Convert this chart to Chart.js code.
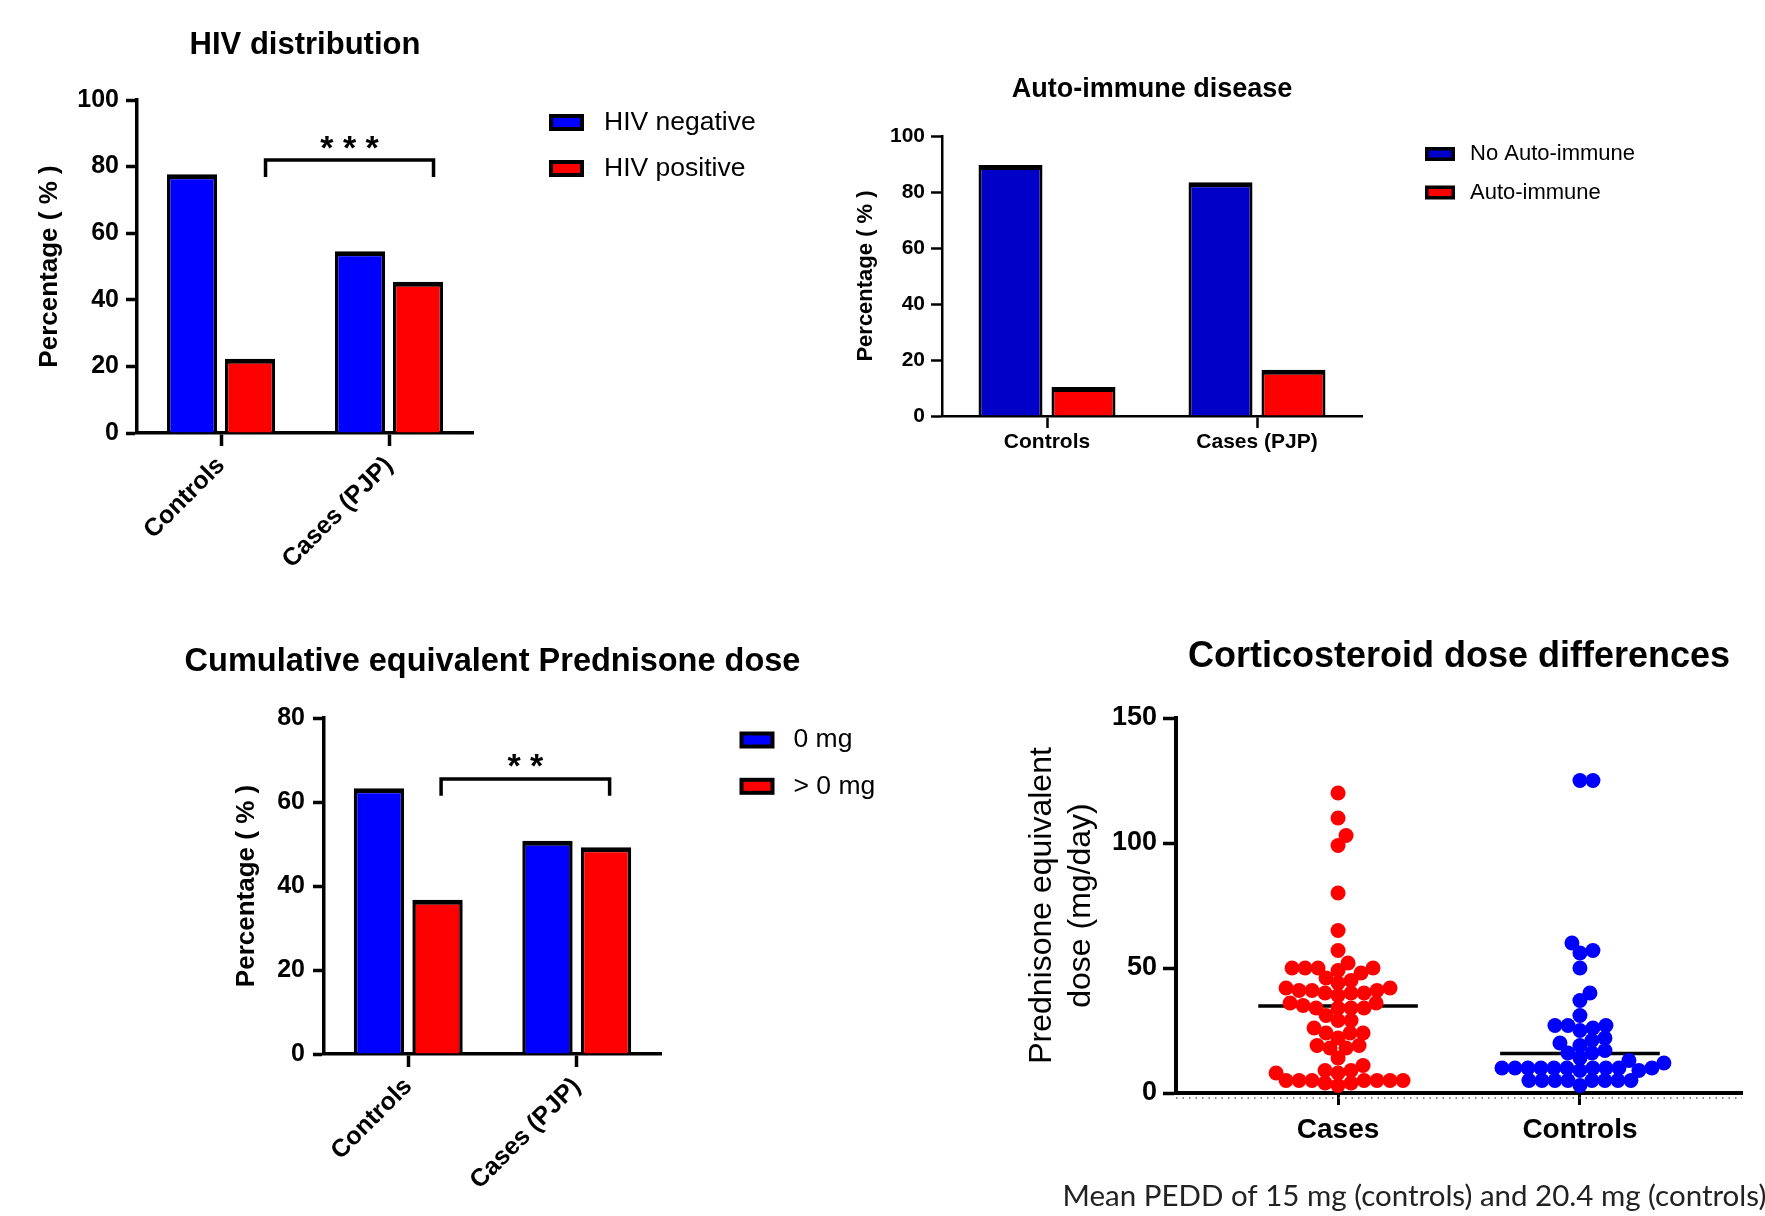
<!DOCTYPE html>
<html lang="en">
<head>
  <meta charset="UTF-8">
  <title>PJP risk factor panels</title>
  <script src="https://cdn.jsdelivr.net/npm/chart.js"></script>
  <style>
    body {
      margin: 0;
      background: #fff;
      width: 1765px;
      height: 1216px;
      position: relative;
      overflow: hidden;
    }
    canvas {
      position: absolute;
      display: block;
    }
  </style>
</head>
<body>
  <canvas id="hivChart" width="820" height="600" style="left:0;top:0"></canvas>
  <canvas id="autoChart" width="945" height="520" style="left:820px;top:0"></canvas>
  <canvas id="doseChart" width="960" height="616" style="left:0;top:600px"></canvas>
  <canvas id="steroidChart" width="805" height="616" style="left:960px;top:600px"></canvas>

  <script>
    // values
    const groups = ['Controls', 'Cases (PJP)'];
    const hivNegative = [77.7, 54.6];
    const hivPositive = [22.3, 45.4];
    const noAutoImmune = [89.6, 83.5];
    const autoImmune = [10.4, 16.5];
    const doseZero = [63.3, 50.8];
    const doseAboveZero = [36.7, 49.2];

    const doseGroups = ['Cases', 'Controls'];
    const casesDose = [120, 110, 103, 99, 80, 65, 57, 52, 50, 50, 50, 50, 49, 48, 46, 45, 44,
      42, 42, 41, 41, 41, 40, 40, 40, 39, 36, 36, 35, 34, 34, 34, 34, 31, 29, 29, 26, 24, 24, 24,
      22, 19, 19, 18, 18, 14, 11, 9, 9, 8, 8, 5, 5, 5, 5, 5, 5, 5, 4, 4, 3];
    const controlsDose = [125, 125, 60, 57, 56, 50, 40, 37, 31, 27, 27, 27, 26, 25, 22, 21, 20,
      19, 17, 16, 16, 14, 13, 12, 10, 10, 10, 10, 10, 10, 10, 10, 10, 10, 9, 9,
      5, 5, 5, 5, 5, 5, 5, 5, 3];
    const casesCentre = 34.8;
    const controlsCentre = 15.8;

    Chart.defaults.font.family = "'Liberation Sans', Arial, sans-serif";
    Chart.defaults.color = '#000';
    Chart.defaults.animation = false;

    const fixWidth = w => scale => { scale.width = w; };
    const fixHeight = h => scale => { scale.height = h; };

    // titles, legend keys, significance brackets, footnote
    const decor = {
      id: 'decor',
      afterDraw(chart, args, opts) {
        const ctx = chart.ctx;
        const area = chart.chartArea;
        ctx.save();
        ctx.fillStyle = '#000';

        if (opts.heading) {
          ctx.font = opts.heading.font;
          ctx.textAlign = 'center';
          ctx.textBaseline = 'middle';
          ctx.fillText(opts.heading.text, (area.left + area.right) / 2, opts.heading.y);
        }

        if (opts.keys) {
          const k = opts.keys;
          chart.data.datasets.forEach((ds, i) => {
            const top = k.y[i] - k.h / 2;
            ctx.fillStyle = '#000';
            ctx.fillRect(k.x, top, k.w, k.h);
            ctx.fillStyle = ds.backgroundColor;
            ctx.fillRect(k.x + k.line, top + k.line, k.w - 2 * k.line, k.h - 2 * k.line);
            ctx.fillStyle = '#000';
            ctx.font = k.font;
            ctx.textAlign = 'left';
            ctx.textBaseline = 'middle';
            ctx.fillText(ds.label, k.textX, k.y[i]);
          });
        }

        if (opts.bracket) {
          const b = opts.bracket;
          const xs = chart.scales.x, ys = chart.scales.y;
          const x1 = xs.getPixelForValue(b.from), x2 = xs.getPixelForValue(b.to);
          const yTop = ys.getPixelForValue(b.at), yEnd = ys.getPixelForValue(b.drop);
          ctx.strokeStyle = '#000';
          ctx.lineWidth = b.width;
          ctx.beginPath();
          ctx.moveTo(x1, yEnd);
          ctx.lineTo(x1, yTop);
          ctx.lineTo(x2, yTop);
          ctx.lineTo(x2, yEnd);
          ctx.stroke();
          ctx.font = 'bold ' + b.size + 'px ' + Chart.defaults.font.family;
          ctx.textAlign = 'center';
          ctx.textBaseline = 'alphabetic';
          ctx.fillText(b.label, (x1 + x2) / 2, ys.getPixelForValue(b.labelAt) + 0.57 * b.size);
        }

        if (opts.rule) {
          ctx.strokeStyle = '#666';
          ctx.lineWidth = 1.5;
          ctx.setLineDash([1.5, 5]);
          ctx.beginPath();
          ctx.moveTo(area.left, area.bottom + opts.rule);
          ctx.lineTo(area.right, area.bottom + opts.rule);
          ctx.stroke();
          ctx.setLineDash([]);
        }

        if (opts.note) {
          ctx.fillStyle = '#222';
          ctx.font = opts.note.font;
          ctx.textAlign = 'left';
          ctx.textBaseline = 'middle';
          ctx.fillText(opts.note.text, opts.note.x, opts.note.y);
        }
        ctx.restore();
      }
    };

    function barPanel(id, cfg) {
      return new Chart(document.getElementById(id), {
        type: 'bar',
        data: {
          labels: groups,
          datasets: cfg.series.map(s => ({
            label: s.label,
            data: s.data,
            backgroundColor: s.color,
            borderColor: '#000',
            borderWidth: cfg.barBorder,
            borderSkipped: 'start',
            categoryPercentage: cfg.catPct,
            barPercentage: cfg.barPct
          }))
        },
        options: {
          responsive: false,
          layout: { padding: cfg.padding },
          plugins: {
            legend: { display: false },
            tooltip: { enabled: false },
            decor: cfg.decor
          },
          scales: {
            x: {
              afterFit: fixHeight(cfg.xHeight),
              grid: { offset: false, drawOnChartArea: false, color: '#000', tickLength: cfg.xTick, tickWidth: cfg.axisWidth },
              border: { color: '#000', width: cfg.axisWidth },
              ticks: {
                font: { size: cfg.xFont, weight: 'bold' },
                minRotation: cfg.rotation,
                maxRotation: cfg.rotation,
                autoSkip: false,
                padding: cfg.xPad
              }
            },
            y: {
              min: 0,
              max: cfg.yMax,
              afterFit: fixWidth(cfg.yWidth),
              grid: { drawOnChartArea: false, color: '#000', tickLength: 11, tickWidth: cfg.axisWidth },
              border: { color: '#000', width: cfg.axisWidth },
              ticks: { stepSize: 20, font: { size: cfg.yFont, weight: 'bold' }, padding: cfg.yPad },
              title: {
                display: true,
                text: 'Percentage ( % )',
                font: { size: cfg.yTitleFont, weight: 'bold' },
                padding: { top: cfg.yTitlePad, bottom: 0 }
              }
            }
          }
        },
        plugins: [decor]
      });
    }

    barPanel('hivChart', {
      series: [
        { label: 'HIV negative', data: hivNegative, color: '#0000FF' },
        { label: 'HIV positive', data: hivPositive, color: '#FF0000' }
      ],
      barBorder: { top: 5, left: 3.5, right: 3.5, bottom: 0 },
      catPct: 0.69, barPct: 0.865,
      padding: { left: 0, top: 100, right: 347, bottom: 0 },
      xHeight: 167, xTick: 13, xFont: 25, xPad: 5, rotation: 45,
      yMax: 100, yWidth: 137, yFont: 25, yPad: 7, yTitleFont: 26, yTitlePad: 34,
      axisWidth: 3.5,
      decor: {
        heading: { text: 'HIV distribution', y: 45, font: "bold 31px 'Liberation Sans', Arial, sans-serif" },
        keys: { x: 549, w: 35, h: 17, line: 4, y: [122.5, 168.5], textX: 604, font: "26.5px 'Liberation Sans', Arial, sans-serif" },
        bracket: { from: 0.265, to: 1.265, at: 82, drop: 76.9, width: 3.5, label: '* * *', labelAt: 88.1, size: 34 }
      }
    });

    barPanel('autoChart', {
      series: [
        { label: 'No Auto-immune', data: noAutoImmune, color: '#0000C8' },
        { label: 'Auto-immune', data: autoImmune, color: '#FF0000' }
      ],
      barBorder: { top: 5, left: 3, right: 3, bottom: 0 },
      catPct: 0.695, barPct: 0.877,
      padding: { left: 0, top: 136, right: 403, bottom: 0 },
      xHeight: 104, xTick: 12, xFont: 21, xPad: 2, rotation: 0,
      yMax: 100, yWidth: 122, yFont: 21, yPad: 6, yTitleFont: 22, yTitlePad: 33,
      axisWidth: 2.5,
      decor: {
        heading: { text: 'Auto-immune disease', y: 90, font: "bold 27px 'Liberation Sans', Arial, sans-serif" },
        keys: { x: 605, w: 30, h: 14, line: 3.5, y: [154, 192.5], textX: 650, font: "22px 'Liberation Sans', Arial, sans-serif" }
      }
    });

    barPanel('doseChart', {
      series: [
        { label: '0 mg', data: doseZero, color: '#0000FF' },
        { label: '> 0 mg', data: doseAboveZero, color: '#FF0000' }
      ],
      barBorder: { top: 5, left: 3.5, right: 3.5, bottom: 0 },
      catPct: 0.695, barPct: 0.86,
      padding: { left: 0, top: 118, right: 299, bottom: 0 },
      xHeight: 162, xTick: 13, xFont: 25, xPad: 5, rotation: 45,
      yMax: 80, yWidth: 324, yFont: 25, yPad: 8, yTitleFont: 26, yTitlePad: 231,
      axisWidth: 3.5,
      decor: {
        heading: { text: 'Cumulative equivalent Prednisone dose', y: 62, font: "bold 32.5px 'Liberation Sans', Arial, sans-serif" },
        keys: { x: 739.5, w: 35, h: 17, line: 4, y: [140, 186.3], textX: 793.5, font: "26.5px 'Liberation Sans', Arial, sans-serif" },
        bracket: { from: 0.195, to: 1.195, at: 65.5, drop: 61.5, width: 3.5, label: '* *', labelAt: 70.6, size: 34 }
      }
    });

    // beeswarm layout: each dot goes to the nearest free spot beside the column centre
    // (gap and the px-per-unit factors only decide the horizontal spread)
    function swarm(values, centre, gap, xPx, yPx) {
      const placed = [];
      values.slice().sort((a, b) => a - b).forEach(v => {
        for (let k = 0; ; k++) {
          const tries = k === 0 ? [0] : [k, -k];
          const spot = tries.find(o => placed.every(p => Math.hypot(p.o - o, (p.v - v) * yPx) >= gap));
          if (spot !== undefined) {
            placed.push({ o: spot, v });
            break;
          }
        }
      });
      return placed.map(p => ({ x: centre + p.o / xPx, y: p.v }));
    }

    const halfLine = 0.33;
    new Chart(document.getElementById('steroidChart'), {
      type: 'scatter',
      data: {
        datasets: [
          {
            label: doseGroups[0],
            data: swarm(casesDose, 1, 12.5, 242, 2.5),
            backgroundColor: '#FF0000',
            borderWidth: 0,
            pointRadius: 7.5
          },
          {
            label: doseGroups[1],
            data: swarm(controlsDose, 2, 12.5, 242, 2.5),
            backgroundColor: '#0000FF',
            borderWidth: 0,
            pointRadius: 7.5
          },
          {
            type: 'line',
            data: [{ x: 1 - halfLine, y: casesCentre }, { x: 1 + halfLine, y: casesCentre }],
            borderColor: '#000',
            borderWidth: 3.5,
            pointRadius: 0
          },
          {
            type: 'line',
            data: [{ x: 2 - halfLine, y: controlsCentre }, { x: 2 + halfLine, y: controlsCentre }],
            borderColor: '#000',
            borderWidth: 3.5,
            pointRadius: 0
          }
        ]
      },
      options: {
        responsive: false,
        layout: { padding: { left: 0, top: 118, right: 23, bottom: 0 } },
        plugins: {
          legend: { display: false },
          tooltip: { enabled: false },
          decor: {
            heading: { text: 'Corticosteroid dose differences', y: 57, font: "bold 36px 'Liberation Sans', Arial, sans-serif" },
            rule: 5,
            note: { text: 'Mean PEDD of 15 mg (controls) and 20.4 mg (controls)', x: 102.6, y: 596, font: "29.5px Lato, 'Open Sans', sans-serif" }
          }
        },
        scales: {
          x: {
            type: 'linear',
            min: 0.33,
            max: 2.67,
            afterFit: fixHeight(123),
            afterBuildTicks: scale => { scale.ticks = [{ value: 1 }, { value: 2 }]; },
            grid: { drawOnChartArea: false, color: '#000', tickLength: 12, tickWidth: 3 },
            border: { color: '#000', width: 4 },
            ticks: {
              font: { size: 28, weight: 'bold' },
              padding: 8,
              callback: v => doseGroups[v - 1]
            }
          },
          y: {
            min: 0,
            max: 150,
            afterFit: fixWidth(216),
            grid: { drawOnChartArea: false, color: '#000', tickLength: 13, tickWidth: 3.5 },
            border: { color: '#000', width: 4 },
            ticks: { stepSize: 50, font: { size: 27, weight: 'bold' }, padding: 6 },
            title: {
              display: true,
              text: ['Prednisone equivalent', 'dose (mg/day)'],
              font: { size: 32, lineHeight: 1.21 },
              padding: { top: 62.6, bottom: 0 }
            }
          }
        }
      },
      plugins: [decor]
    });
  </script>
</body>
</html>
